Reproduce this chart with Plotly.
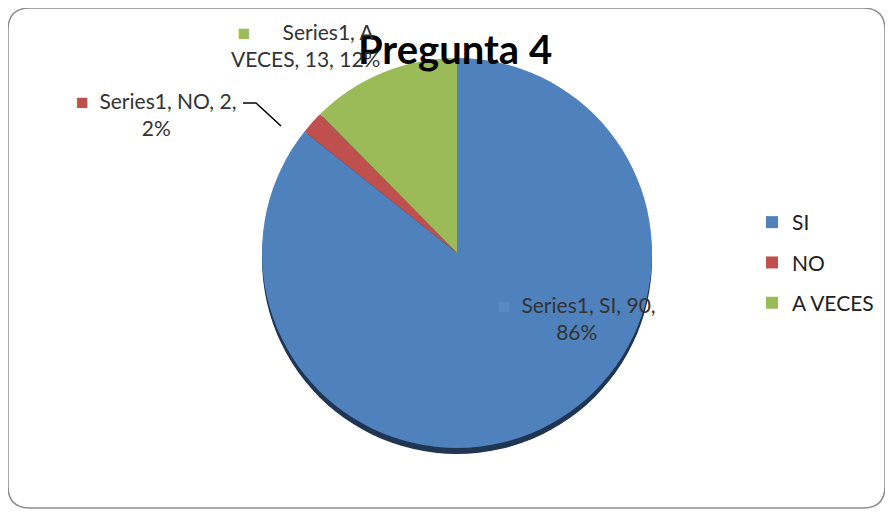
import plotly.graph_objects as go

# datos de la pregunta 4
series_name = "Series1"
categories = ["SI", "NO", "A VECES"]
counts = [90, 2, 13]
colors = ["#4F81BD", "#C0504D", "#9BBB59"]
title = "Pregunta 4"

W, H = 893, 512
OFF = 8  # page body margin
total = sum(counts)
pct = [round(100 * c / total) for c in counts]

def px(x, y):
    # page pixel -> paper coords
    return (x - OFF) / W, 1 - (y - OFF) / H

# pie geometry (page pixels)
cx, cy, r = 457, 253, 195
FONT = "Lato, Open Sans, sans-serif"

def pie_domain(dy=0):
    x0, y0 = px(cx - r, cy + r + dy)
    x1, y1 = px(cx + r, cy - r + dy)
    return dict(x=[x0, x1], y=[y0, y1])

fig = go.Figure()

# dark rim under the pie
fig.add_trace(go.Pie(
    labels=categories, values=counts, sort=False, direction="clockwise", rotation=0,
    marker=dict(colors=["#1F3552"] * 3, line=dict(width=0)),
    textinfo="none", hoverinfo="skip", showlegend=False,
    domain=pie_domain(6),
))

fig.add_trace(go.Pie(
    labels=categories, values=counts, sort=False, direction="clockwise", rotation=0,
    marker=dict(colors=colors, line=dict(width=0)),
    textinfo="none", showlegend=False,
    domain=pie_domain(0),
))

# legend entries (one group each so they can be spaced like the original)
for cat, col in zip(categories, colors):
    fig.add_trace(go.Scatter(
        x=[None], y=[None], mode="markers", name=cat, legendgroup=cat,
        marker=dict(symbol="square", size=12, color=col),
    ))

lbl_font = dict(family=FONT, size=21, color="#333333")

def key(c):
    return "<span style='color:%s'>■</span>" % c

def label(xy, text):
    x, y = px(*xy)
    fig.add_annotation(x=x, y=y, xref="paper", yref="paper", xanchor="center", yanchor="middle",
                       text=text, showarrow=False, font=lbl_font, align="center")

si, no, av = 0, 1, 2
label((577, 318), "%s  %s, %s, %d,<br>%d%%" % (key("#5A8AC6"), series_name, categories[si], counts[si], pct[si]))
label((156, 114), "%s  %s, %s, %d,<br>%d%%" % (key(colors[no]), series_name, categories[no], counts[no], pct[no]))
va, vb = categories[av].split(" ")
label((305, 45), "%s      %s, %s<br>%s, %d, %d%%" % (key(colors[av]), series_name, va, vb, counts[av], pct[av]))

# leader line for NO
fig.add_shape(type="path", xref="paper", yref="paper",
              path="M %f %f L %f %f L %f %f" % (*px(243, 103), *px(256, 103), *px(281, 126)),
              line=dict(color="black", width=1.5))

# rounded frame
fx0, fy0, fx1, fy1, rr = 8, 8, 885, 508, 22
fr = ("M {a},{b} L {c},{b} Q {x1},{b} {x1},{d} L {x1},{e} Q {x1},{y1} {c},{y1} "
      "L {a},{y1} Q {x0},{y1} {x0},{e} L {x0},{d} Q {x0},{b} {a},{b} Z")
pts = dict(a=px(fx0 + rr, 0)[0], c=px(fx1 - rr, 0)[0], b=px(0, fy0)[1], d=px(0, fy0 + rr)[1],
           e=px(0, fy1 - rr)[1], x0=px(fx0, 0)[0], x1=px(fx1, 0)[0], y1=px(0, fy1)[1])
fig.add_shape(type="path", xref="paper", yref="paper", path=fr.format(**pts),
              line=dict(color="#8C8C8C", width=1.5), layer="below")

tx, ty = px(455, 50)
lx, ly = px(752, 202)
fig.update_layout(
    width=W, height=H,
    margin=dict(l=0, r=0, t=0, b=0),
    paper_bgcolor="white", plot_bgcolor="white",
    xaxis=dict(visible=False), yaxis=dict(visible=False),
    title=dict(text="<b>%s</b>" % title, x=tx, xanchor="center", y=ty, yanchor="middle",
               font=dict(family=FONT, size=40, color="black")),
    legend=dict(x=lx, y=ly, xanchor="left", yanchor="top", traceorder="grouped", tracegroupgap=10,
                font=dict(family=FONT, size=21, color="#222222"),
                itemwidth=30, bgcolor="rgba(0,0,0,0)"),
)

fig.write_html("out.html")
